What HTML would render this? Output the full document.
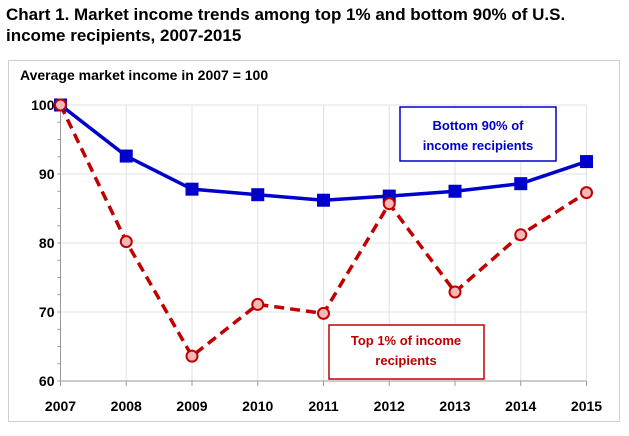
<!DOCTYPE html>
<html><head><meta charset="utf-8"><style>
body{margin:0;background:#fff;font-family:"Liberation Sans",Arial,sans-serif}
svg text{font-family:"Liberation Sans",Arial,sans-serif}
</style></head><body>
<svg width="629" height="431" xmlns="http://www.w3.org/2000/svg">
<text x="6" y="20" font-size="17" font-weight="bold" fill="#000">Chart 1. Market income trends among top 1% and bottom 90% of U.S.</text>
<text x="6" y="41" font-size="17" font-weight="bold" fill="#000">income recipients, 2007-2015</text>
<rect x="8.5" y="60.5" width="611" height="361" fill="none" stroke="#d0d0d0"/>
<text x="20" y="80" font-size="14" font-weight="bold" fill="#000">Average market income in 2007 = 100</text>
<g id="grid"></g>
<g id="axes"></g>
<g id="series"></g>
<rect x="400" y="107" width="156" height="54" fill="#fff" stroke="#0000cc" stroke-width="1.5"/>
<text x="478" y="130" font-size="13" font-weight="bold" fill="#0000cc" text-anchor="middle">Bottom 90% of</text>
<text x="478" y="150" font-size="13" font-weight="bold" fill="#0000cc" text-anchor="middle">income recipients</text>
<rect x="329" y="325" width="155" height="54" fill="#fff" stroke="#c00000" stroke-width="1.5"/>
<text x="406" y="345" font-size="13" font-weight="bold" fill="#c00000" text-anchor="middle">Top 1% of income</text>
<text x="406" y="365" font-size="13" font-weight="bold" fill="#c00000" text-anchor="middle">recipients</text>
</svg>
<script>
const years=["2007","2008","2009","2010","2011","2012","2013","2014","2015"];
const bottom90=[100,92.6,87.8,87.0,86.2,86.8,87.5,88.6,91.8];
const top1=[100,80.2,63.6,71.1,69.8,85.7,72.9,81.2,87.3];
const yTicks=[60,70,80,90,100];
const NS="http://www.w3.org/2000/svg";
const x0=60.5,x1=586.5,yTop=105,yBot=381,vMin=60,vMax=100;
const X=i=>x0+(x1-x0)*i/(years.length-1);
const Y=v=>yBot-(v-vMin)/(vMax-vMin)*(yBot-yTop);
function mk(tag,attrs,parent){const e=document.createElementNS(NS,tag);for(const k in attrs)e.setAttribute(k,attrs[k]);parent.appendChild(e);return e;}
const grid=document.getElementById('grid'),axes=document.getElementById('axes'),ser=document.getElementById('series');
yTicks.forEach(v=>{
 const l=mk('line',{x1:x0,x2:x1,y1:Y(v),y2:Y(v),stroke:'#e0e0e0'},grid);
 
 
 const t=mk('text',{x:x0-6,y:Y(v)+5,'font-size':14,'font-weight':'bold','text-anchor':'end'},axes);
 t.textContent=v;
 
 
});
for(let v=vMin;v<vMax;v+=2.5){
 const m=mk('line',{x1:x0-3,x2:x0,y1:Y(v),y2:Y(v),stroke:'#999'},axes);
 
 
}
years.forEach((y,i)=>{
 const l=mk('line',{x1:X(i),x2:X(i),y1:yTop,y2:yBot,stroke:'#e0e0e0'},grid);
 
 
 const tk=mk('line',{x1:X(i),x2:X(i),y1:yBot,y2:yBot+5,stroke:'#999'},axes);
 
 
 const t=mk('text',{x:X(i),y:yBot+30,'font-size':14,'font-weight':'bold','text-anchor':'middle'},axes);
 t.textContent=y;
 
 
});
const ay=mk('line',{x1:x0,x2:x0,y1:yTop-5,y2:yBot,stroke:'#999'},axes);


const ax=mk('line',{x1:x0,x2:x1,y1:yBot,y2:yBot,stroke:'#999'},axes);


const bl=mk('polyline',{points:bottom90.map((v,i)=>X(i)+','+Y(v)).join(' '),fill:'none',stroke:'#0000cc','stroke-width':3.5},ser);


const tl=mk('polyline',{points:top1.map((v,i)=>X(i)+','+Y(v)).join(' '),fill:'none',stroke:'#c00000','stroke-width':3.5,'stroke-dasharray':'10,6'},ser);


bottom90.forEach((v,i)=>{
 const r=mk('rect',{x:X(i)-6.5,y:Y(v)-6.5,width:13,height:13,fill:'#0000cc'},ser);
 
 
});
top1.forEach((v,i)=>{
 const c=mk('circle',{cx:X(i),cy:Y(v),r:5.5,fill:'#f4b8b8',stroke:'#c00000','stroke-width':2},ser);
 
 
});
</script>
</body></html>
